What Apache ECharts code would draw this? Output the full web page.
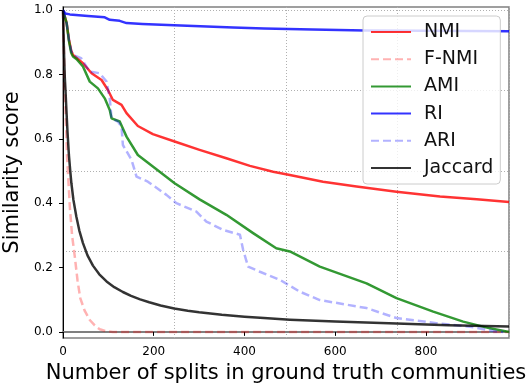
<!DOCTYPE html>
<html>
<head>
<meta charset="utf-8">
<script src="https://cdn.jsdelivr.net/npm/echarts@6/dist/echarts.min.js"></script>
<style>
  html, body { margin: 0; padding: 0; background: #fff; }
  #chart { width: 529px; height: 390px; }
</style>
</head>
<body>
<div id="chart"></div>
<script>
// Similarity scores versus number of splits, one [splits, score] list per measure
const nmiPoints = [
  [0, 1.0], [3, 0.985], [8, 0.96], [13, 0.91], [18, 0.875], [22, 0.861], [44, 0.835],
  [63, 0.804], [85, 0.783], [99, 0.752], [110, 0.721], [129, 0.706], [140, 0.68],
  [165, 0.64], [198, 0.615], [246, 0.592], [301, 0.566], [360, 0.54], [412, 0.516],
  [463, 0.498], [500, 0.488], [573, 0.467], [647, 0.452], [735, 0.436], [831, 0.421],
  [912, 0.412], [983, 0.404]
];
const fnmiPoints = [
  [0, 1.0], [2, 0.88], [4, 0.752], [9, 0.545], [15, 0.39], [20, 0.3], [26, 0.234],
  [32, 0.16], [38, 0.105], [48, 0.065], [59, 0.037], [70, 0.02], [81, 0.008],
  [95, 0.002], [110, 0.0], [983, 0.0]
];
const amiPoints = [
  [0, 1.0], [3, 0.985], [8, 0.96], [13, 0.905], [18, 0.868], [22, 0.856], [30, 0.848],
  [44, 0.825], [59, 0.778], [77, 0.757], [92, 0.726], [103, 0.69], [107, 0.664],
  [125, 0.654], [140, 0.607], [165, 0.55], [198, 0.514], [246, 0.462], [301, 0.412],
  [360, 0.364], [419, 0.307], [470, 0.26], [500, 0.25], [566, 0.203], [669, 0.151],
  [735, 0.105], [816, 0.063], [882, 0.032], [941, 0.011], [983, 0.0]
];
const riPoints = [
  [0, 1.0], [5, 0.99], [15, 0.987], [55, 0.982], [92, 0.978], [103, 0.97], [125, 0.967],
  [140, 0.96], [175, 0.957], [245, 0.953], [375, 0.946], [443, 0.943], [550, 0.94],
  [665, 0.937], [800, 0.936], [983, 0.935]
];
const ariPoints = [
  [0, 1.0], [3, 0.985], [8, 0.96], [13, 0.91], [18, 0.875], [22, 0.861], [40, 0.851],
  [59, 0.809], [81, 0.804], [96, 0.778], [103, 0.726], [107, 0.664], [121, 0.654],
  [129, 0.638], [132, 0.581], [151, 0.535], [162, 0.483], [187, 0.467], [228, 0.426],
  [250, 0.4], [294, 0.374], [316, 0.343], [353, 0.317], [390, 0.302], [397, 0.255],
  [408, 0.203], [434, 0.187], [478, 0.162], [522, 0.125], [566, 0.099], [669, 0.074],
  [735, 0.043], [823, 0.027], [897, 0.016], [956, 0.001], [970, 0.0]
];
const jaccardPoints = [
  [0, 1.0], [1, 0.94], [2, 0.88], [3, 0.83], [4, 0.79], [5.5, 0.75], [7.5, 0.69],
  [10, 0.62], [13, 0.55], [16, 0.5], [18.5, 0.462], [23, 0.41], [29.5, 0.358],
  [36, 0.315], [44, 0.276], [54, 0.238], [66, 0.206], [80, 0.179], [96, 0.157],
  [113, 0.139], [132, 0.124], [150, 0.112], [170, 0.101], [190, 0.092], [215, 0.082],
  [245, 0.073], [275, 0.066], [300, 0.061], [350, 0.053], [400, 0.047], [443, 0.043],
  [500, 0.038], [600, 0.032], [735, 0.026], [850, 0.021], [983, 0.017]
];

const xTickValues = [0, 200, 400, 600, 800];
const yTickValues = [0, 0.2, 0.4, 0.6, 0.8, 1.0];
const yGridValues = [0, 0.25, 0.5, 0.75, 1.0];

const X_MAX = 983;
const Y_MIN = -0.019;
const Y_MAX = 1.01;

const FONT = 'DejaVu Sans';

function lineSeries(name, data, color, dashed) {
  return {
    name: name,
    type: 'line',
    data: data,
    xAxisIndex: 0,
    yAxisIndex: 0,
    symbol: 'none',
    showSymbol: false,
    smooth: false,
    lineStyle: { color: color, width: 2.5, type: dashed ? [8, 4] : 'solid', join: 'round' },
    itemStyle: { color: color },
    emphasis: { disabled: true }
  };
}

const chart = echarts.init(document.getElementById('chart'), null, { renderer: 'canvas' });

chart.setOption({
  animation: false,
  backgroundColor: '#ffffff',
  grid: {
    left: 63, right: 20, top: 7, bottom: 52,
    containLabel: false,
    outerBoundsMode: 'none',
    show: true,
    borderColor: '#808080',
    borderWidth: 1.5,
    backgroundColor: 'transparent'
  },
  legend: {
    left: 363,
    top: 16,
    orient: 'vertical',
    align: 'left',
    itemWidth: 40,
    itemHeight: 14,
    itemGap: 8.2,
    padding: [6.5, 7, 6.5, 7],
    backgroundColor: 'rgba(255,255,255,0.8)',
    borderColor: '#cccccc',
    borderWidth: 1,
    borderRadius: 4,
    selectedMode: false,
    itemStyle: { opacity: 0, borderWidth: 0 },
    textStyle: { fontFamily: FONT, fontSize: 19, color: '#111', padding: [0, 0, 0, 8] },
    data: ['NMI', 'F-NMI', 'AMI', 'RI', 'ARI', 'Jaccard']
  },
  xAxis: [
    {
      type: 'value',
      min: 0,
      max: X_MAX,
      name: 'Number of splits in ground truth communities',
      nameLocation: 'middle',
      nameGap: 23,
      nameTextStyle: { fontFamily: FONT, fontSize: 21, color: '#000' },
      axisLine: { show: true, lineStyle: { color: '#808080', width: 2 } },
      axisTick: { show: true, length: 4, lineStyle: { color: '#000', width: 1 }, customValues: xTickValues },
      axisLabel: { fontFamily: FONT, fontSize: 12, color: '#000', margin: 8, customValues: xTickValues },
      splitLine: { show: false }
    },
    {
      type: 'value',
      min: 0,
      max: X_MAX,
      interval: X_MAX / 4,
      position: 'bottom',
      axisLine: { show: false },
      axisTick: { show: false },
      axisLabel: { show: false },
      splitLine: { show: true, lineStyle: { color: '#b0b0b0', width: 1, type: [1, 2] } }
    }
  ],
  yAxis: [
    {
      type: 'value',
      min: Y_MIN,
      max: Y_MAX,
      name: 'Similarity score',
      nameLocation: 'middle',
      nameGap: 31,
      nameTextStyle: { fontFamily: FONT, fontSize: 21, color: '#000' },
      axisLine: { show: true, lineStyle: { color: '#000', width: 1 } },
      axisTick: { show: true, length: 4, lineStyle: { color: '#000', width: 1 }, customValues: yTickValues },
      axisLabel: {
        fontFamily: FONT, fontSize: 12, color: '#000', margin: 10,
        customValues: yTickValues,
        formatter: v => v.toFixed(1)
      },
      splitLine: { show: false }
    },
    {
      type: 'value',
      min: Y_MIN,
      max: Y_MAX,
      position: 'left',
      axisLine: { show: false },
      axisTick: { show: false, customValues: yGridValues },
      axisLabel: { show: false, customValues: yGridValues },
      splitLine: { show: true, lineStyle: { color: '#b0b0b0', width: 1, type: [1, 2] } }
    }
  ],
  series: [
    lineSeries('NMI', nmiPoints, 'rgba(255,0,0,0.8)', false),
    lineSeries('F-NMI', fnmiPoints, 'rgba(255,0,0,0.3)', true),
    lineSeries('AMI', amiPoints, 'rgba(0,128,0,0.8)', false),
    lineSeries('RI', riPoints, 'rgba(0,0,255,0.8)', false),
    lineSeries('ARI', ariPoints, 'rgba(0,0,255,0.3)', true),
    lineSeries('Jaccard', jaccardPoints, 'rgba(0,0,0,0.8)', false)
  ]
});
</script>
</body>
</html>
